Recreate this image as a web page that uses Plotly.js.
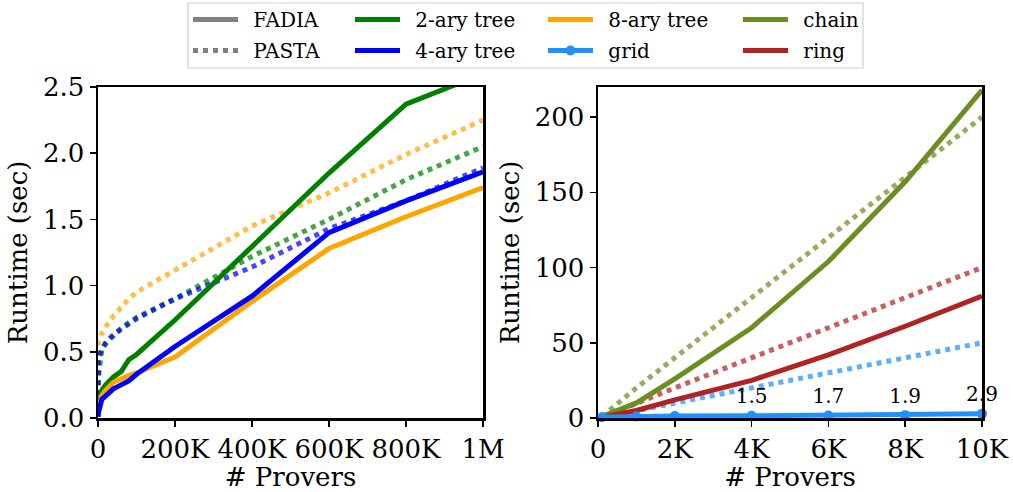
<!DOCTYPE html>
<html><head><meta charset="utf-8">
<script src="https://cdn.plot.ly/plotly-3.0.1.min.js"></script>
<style>html,body{margin:0;padding:0;background:#fff}#chart{width:1013px;height:492px}</style>
</head><body><div id="chart"></div>
<script>
// ---- Left panel: tree topologies (x = # provers) ----
const treeProvers = [100, 1000, 10000, 20000, 40000, 60000, 80000, 100000, 200000, 400000, 600000, 800000, 1000000];
const tree2Fadia = [0.01, 0.05, 0.21, 0.25, 0.31, 0.35, 0.44, 0.48, 0.74, 1.29, 1.85, 2.37, 2.60];
const tree4Fadia = [0.01, 0.04, 0.14, 0.17, 0.22, 0.25, 0.28, 0.33, 0.54, 0.92, 1.40, 1.64, 1.86];
const tree8Fadia = [0.01, 0.05, 0.17, 0.21, 0.27, 0.30, 0.32, 0.34, 0.46, 0.88, 1.28, 1.52, 1.74];
const tree2Pasta = [0.02, 0.30, 0.52, 0.56, 0.62, 0.68, 0.72, 0.76, 0.90, 1.22, 1.50, 1.80, 2.05];
const tree4Pasta = [0.02, 0.45, 0.52, 0.57, 0.63, 0.67, 0.71, 0.75, 0.90, 1.14, 1.43, 1.64, 1.89];
const tree8Pasta = [0.02, 0.58, 0.64, 0.69, 0.77, 0.84, 0.90, 0.95, 1.12, 1.45, 1.70, 1.99, 2.25];

// ---- Right panel: chain / grid / ring ----
const meshProvers = [100, 1000, 2000, 4000, 6000, 8000, 10000];
const chainFadia = [1, 10, 26, 60, 104, 157, 218];
const chainPasta = [1, 20, 40, 80, 120, 160, 200];
const ringFadia = [0.5, 5, 12, 25, 42, 61, 81];
const ringPasta = [0.5, 10, 20, 40, 60, 80, 100];
const gridFadia = [0.5, 1.0, 1.3, 1.5, 1.7, 1.9, 2.9];
const gridPasta = [0.3, 5, 10, 20, 30, 40, 50];
const gridLabels = ['', '', '', '1.5', '1.7', '1.9', '2.9'];

// ---- Tick labels ----
const leftTickVals = [0, 200000, 400000, 600000, 800000, 1000000];
const leftTickText = ['0', '200K', '400K', '600K', '800K', '1M'];
const leftYTicks = [0, 0.5, 1, 1.5, 2, 2.5];
const rightTickVals = [0, 2000, 4000, 6000, 8000, 10000];
const rightTickText = ['0', '2K', '4K', '6K', '8K', '10K'];
const rightYTicks = [0, 50, 100, 150, 200];

// ---- Legend labels ----
const legendNames = ['FADIA', 'PASTA', '2-ary tree', '4-ary tree', '8-ary tree', 'grid', 'chain', 'ring'];

const FONT = 'DejaVu Serif';
const FS = 26;
const LW = 5;
const C = {t2: '#008000', t4: '#0000ff', t8: '#ffa500', chain: '#6b8e23', ring: '#b22222', grid: '#1e90ff'};

function line(x, y, color, dotted, xa, ya, extra) {
  return Object.assign({
    x: x, y: y, type: 'scatter', mode: 'lines', showlegend: false, hoverinfo: 'skip',
    xaxis: xa, yaxis: ya,
    line: {color: color, width: LW, dash: dotted ? 'dot' : 'solid'},
    opacity: dotted ? 0.72 : 1
  }, extra || {});
}

const traces = [
  line(treeProvers, tree8Pasta, C.t8, true, 'x', 'y'),
  line(treeProvers, tree2Pasta, C.t2, true, 'x', 'y'),
  line(treeProvers, tree4Pasta, C.t4, true, 'x', 'y'),
  line(treeProvers, tree2Fadia, C.t2, false, 'x', 'y'),
  line(treeProvers, tree8Fadia, C.t8, false, 'x', 'y'),
  line(treeProvers, tree4Fadia, C.t4, false, 'x', 'y'),

  line(meshProvers, chainPasta, C.chain, true, 'x2', 'y2'),
  line(meshProvers, ringPasta, C.ring, true, 'x2', 'y2'),
  line(meshProvers, gridPasta, C.grid, true, 'x2', 'y2'),
  line(meshProvers, chainFadia, C.chain, false, 'x2', 'y2'),
  line(meshProvers, ringFadia, C.ring, false, 'x2', 'y2'),
  line(meshProvers, gridFadia, C.grid, false, 'x2', 'y2', {
    mode: 'lines+markers+text', marker: {size: 10, color: C.grid},
    text: gridLabels, textposition: 'top center', cliponaxis: false,
    textfont: {family: FONT, size: 20, color: '#000'}
  })
];

// legend-only entries
const PAD = '\u00a0\u2009';
function leg(i, color, dotted, legend, withMarker) {
  return {
    x: [null], y: [null], type: 'scatter', name: PAD + legendNames[i], legend: legend,
    legendgroup: 'g' + i,
    mode: withMarker ? 'lines+markers' : 'lines',
    marker: {size: 10, color: color},
    line: {color: color, width: LW, dash: dotted ? 'dot' : 'solid'},
    xaxis: 'x', yaxis: 'y', hoverinfo: 'skip'
  };
}
traces.push(
  leg(0, '#808080', false, 'legend'),
  leg(1, '#808080', true, 'legend'),
  leg(2, C.t2, false, 'legend2'),
  leg(3, C.t4, false, 'legend2'),
  leg(4, C.t8, false, 'legend3'),
  leg(5, C.grid, false, 'legend3', true),
  leg(6, C.chain, false, 'legend4'),
  leg(7, C.ring, false, 'legend4')
);

const W = 1013, H = 492, ML = 98, MR = 31, MT = 87, MB = 74;
const PW = W - ML - MR, PH = H - MT - MB;
const px = v => (v - ML) / PW;
const py = v => (H - MB - v) / PH;

function legendAt(xpix) {
  return {
    x: px(xpix), xanchor: 'left', y: py(0), yanchor: 'top',
    orientation: 'v', bgcolor: 'rgba(0,0,0,0)', borderwidth: 0,
    font: {family: FONT, size: 20, color: '#000'},
    itemwidth: 45, tracegroupgap: 2
  };
}

const axisCommon = {
  showline: true, mirror: true, linecolor: '#000', linewidth: 2.5,
  ticks: 'outside', ticklen: 6, tickwidth: 1.5, tickcolor: '#000',
  showgrid: false, zeroline: false,
  tickfont: {family: FONT, size: FS, color: '#000'}
};
const titleFont = {family: FONT, size: FS, color: '#000'};

const layout = {
  width: W, height: H,
  margin: {l: ML, r: MR, t: MT, b: MB, pad: 0, autoexpand: false},
  paper_bgcolor: '#fff', plot_bgcolor: '#fff',
  font: {family: FONT, color: '#000'},
  xaxis: Object.assign({}, axisCommon, {
    domain: [0, (483 - ML) / PW], range: [0, 1000000],
    tickvals: leftTickVals, ticktext: leftTickText,
    title: {text: '# Provers', font: titleFont, standoff: 0}
  }),
  yaxis: Object.assign({}, axisCommon, {
    range: [0, 2.5], tickvals: leftYTicks, tickformat: '.1f',
    title: {text: 'Runtime (sec)', font: titleFont, standoff: 8}
  }),
  xaxis2: Object.assign({}, axisCommon, {
    domain: [(598 - ML) / PW, 1], anchor: 'y2', range: [0, 10000],
    tickvals: rightTickVals, ticktext: rightTickText,
    title: {text: '# Provers', font: titleFont, standoff: 0}
  }),
  yaxis2: Object.assign({}, axisCommon, {
    anchor: 'x2', range: [0, 220], tickvals: rightYTicks,
    title: {text: 'Runtime (sec)', font: titleFont, standoff: 8}
  }),
  legend: legendAt(188),
  legend2: legendAt(350),
  legend3: legendAt(543),
  legend4: legendAt(738),
  shapes: [{
    type: 'rect', xref: 'paper', yref: 'paper',
    x0: px(188), x1: px(863), y0: py(68), y1: py(3),
    line: {color: '#d0d0d0', width: 1.2}, fillcolor: 'rgba(255,255,255,0.8)', layer: 'below'
  }],
  showlegend: true
};

Plotly.newPlot('chart', traces, layout, {displayModeBar: false, staticPlot: true});
</script>
</body></html>
